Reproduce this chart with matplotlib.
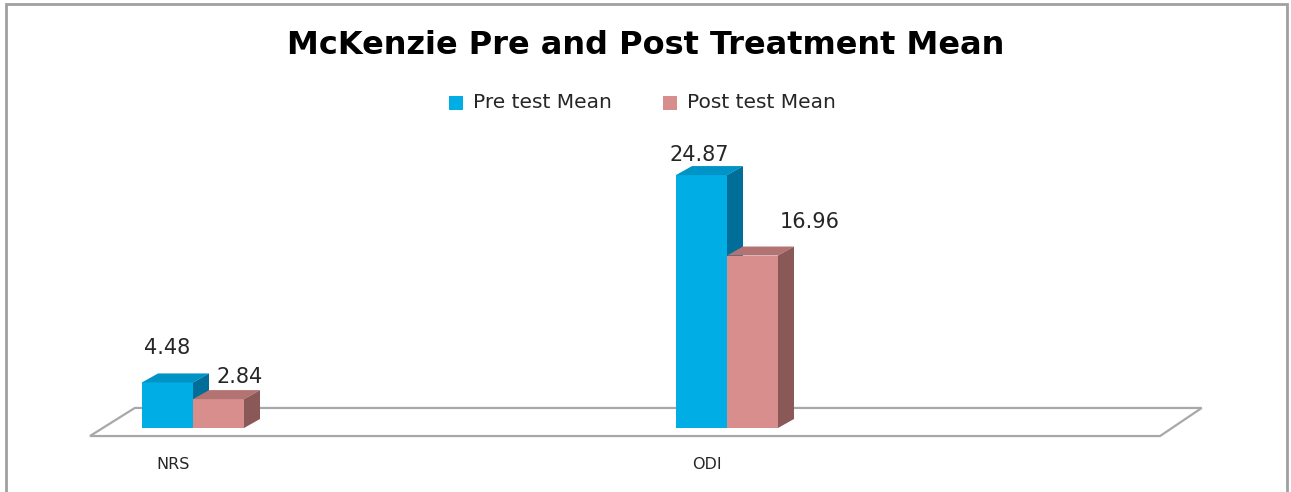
import matplotlib.pyplot as plt
from matplotlib.patches import Polygon, Rectangle

categories = ['NRS', 'ODI']
series_names = ['Pre test Mean', 'Post test Mean']
pre_mean = [4.48, 24.87]
post_mean = [2.84, 16.96]

front_cols = ['#00ADE5', '#D78E8C']
top_cols = ['#0093C6', '#B27372']
side_cols = ['#006E98', '#8A5957']

W, H = 1291, 492
fig = plt.figure(figsize=(W / 100, H / 100), dpi=100)
ax = fig.add_axes([0, 0, 1, 1])
ax.axis('off')

x0_px, step_px = 193, 534       # first category centre, category spacing
y0_px, unit_px = 428, 10.17     # baseline (from top), pixels per unit
ax.set_xlim(-x0_px / step_px, (W - x0_px) / step_px)
ax.set_ylim(-(H - y0_px) / unit_px, y0_px / unit_px)

bw = 51 / step_px               # bar width
ddx, ddy = 16 / step_px, 9 / unit_px   # 3d depth offset

# floor
floor = Polygon([(-0.193, -0.79), (-0.109, 1.97), (1.889, 1.97), (1.811, -0.79)],
                closed=True, facecolor='white', edgecolor='#A8A8A8', lw=1.6, zorder=1)
ax.add_patch(floor)

xs = list(range(len(categories)))
series = [pre_mean, post_mean]
offsets = [-bw / 2, bw / 2]
for s, vals in enumerate(series):
    for i, v in zip(xs, vals):
        xc = i + offsets[s]
        left, right = xc - bw / 2, xc + bw / 2
        ax.bar(xc, v, width=bw, color=front_cols[s], zorder=2 + s, lw=0)
        ax.add_patch(Polygon([(left, v), (left + ddx, v + ddy), (right + ddx, v + ddy), (right, v)],
                             closed=True, facecolor=top_cols[s], lw=0, zorder=2 + s))
        ax.add_patch(Polygon([(right, 0), (right, v), (right + ddx, v + ddy), (right + ddx, ddy)],
                             closed=True, facecolor=side_cols[s], lw=0, zorder=2 + s))

# data labels (offsets in pixels from the top of each bar)
label_offsets = [[(0, 34), (-2, 20)], [(21, 22), (57, 34)]]
for s, vals in enumerate(series):
    for i, v in zip(xs, vals):
        ax.annotate(f'{v:.2f}', (i + offsets[s], v), xytext=label_offsets[s][i],
                    textcoords='offset pixels', ha='center', va='center',
                    fontsize=15, color='#262626', zorder=5)

for i, c in zip(xs, categories):
    ax.text(i - 0.037, -3.6, c, ha='center', va='center', fontsize=11.5, color='#262626')

fig.text(0.5, 1 - 45 / H, 'McKenzie Pre and Post Treatment Mean', ha='center', va='center',
         fontsize=23, fontweight='bold', color='black')

# legend
leg_y = 1 - 103 / H
for s, (name, xpx) in enumerate(zip(series_names, [449, 663])):
    fig.patches.append(Rectangle((xpx / W, leg_y - 7 / H), 14 / W, 14 / H,
                                 transform=fig.transFigure, facecolor=front_cols[s], lw=0))
    fig.text((xpx + 24) / W, leg_y, name, ha='left', va='center', fontsize=14.5, color='#262626')

# chart border
fig.patches.append(Rectangle((6 / W, -0.05), (1287 - 6) / W, 1.05 - 4 / H,
                             transform=fig.transFigure, fill=False,
                             edgecolor='#A0A0A0', lw=2))

fig.savefig('out.png', dpi=100)
